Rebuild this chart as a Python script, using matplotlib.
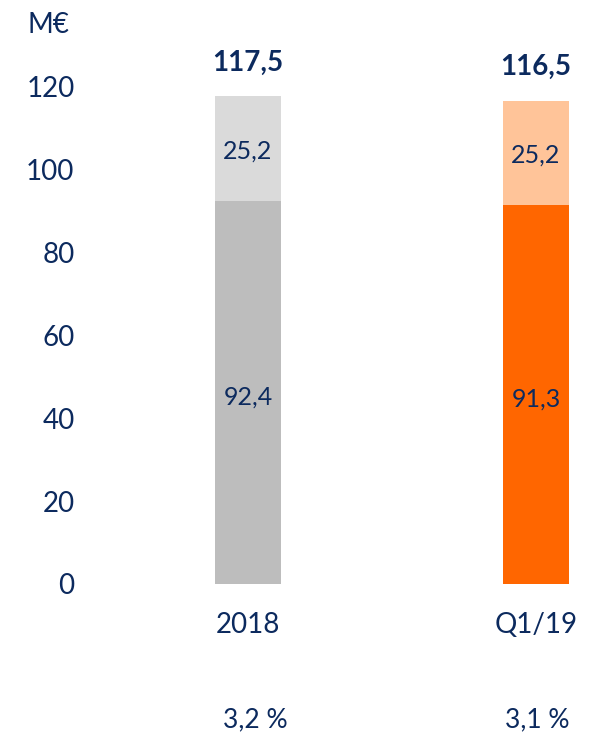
import matplotlib
matplotlib.use('Agg')
import matplotlib.pyplot as plt

categories = ['2018', 'Q1/19']
bottom_vals = [92.4, 91.3]
top_vals = [25.2, 25.2]
totals = [117.5, 116.5]
ratios = ['3,2 %', '3,1 %']
yticks = [0, 20, 40, 60, 80, 100, 120]

navy = '#0C2A5E'
bottom_colors = ['#BDBDBD', '#FF6600']
top_colors = ['#DADADA', '#FFC499']

plt.rcParams['font.family'] = ['Lato', 'DejaVu Sans']

W, H = 598, 736
fig = plt.figure(figsize=(W / 100, H / 100), dpi=100)

# axes: y=0 at pixel 584 from top, 120 -> ~86
ax_left = 80
ax = fig.add_axes([ax_left / W, (H - 584) / H, 1 - ax_left / W, 497.5 / H])
px_per_unit = 288
ax.set_xlim((ax_left - 248) / px_per_unit, (W - 248) / px_per_unit)
ax.set_ylim(0, 120)

x = list(range(len(categories)))
bw = 66 / px_per_unit
ax.bar(x, bottom_vals, width=bw, color=bottom_colors, linewidth=0)
ax.bar(x, top_vals, width=bw, bottom=bottom_vals, color=top_colors, linewidth=0)

for i in x:
    ax.text(i, bottom_vals[i] / 2 - 1, f'{bottom_vals[i]:.1f}'.replace('.', ','),
            ha='center', va='center', fontsize=18, color=navy)
    ax.text(i, bottom_vals[i] + top_vals[i] / 2 - 0.5, f'{top_vals[i]:.1f}'.replace('.', ','),
            ha='center', va='center', fontsize=18, color=navy)
    ax.text(i, totals[i] + 5, f'{totals[i]:.1f}'.replace('.', ','),
            ha='center', va='bottom', fontsize=20, fontweight='bold', color=navy)

ax.set_yticks(yticks)
ax.set_yticklabels([str(t) for t in yticks], fontsize=20, color=navy)
ax.tick_params(axis='y', length=0, pad=4)
ax.set_xticks(x)
ax.set_xticklabels(categories, fontsize=20, color=navy)
ax.tick_params(axis='x', length=0, pad=20)
for s in ax.spines.values():
    s.set_visible(False)

fig.text(48 / W, 1 - 25 / H, 'M€', ha='center', va='center', fontsize=20, color=navy)
for i in x:
    xp = (248 + i * px_per_unit + (7 if i == 0 else 1)) / W
    fig.text(xp, 1 - 720 / H, ratios[i], ha='center', va='center', fontsize=19, color=navy)

fig.savefig('out.png', dpi=100)
